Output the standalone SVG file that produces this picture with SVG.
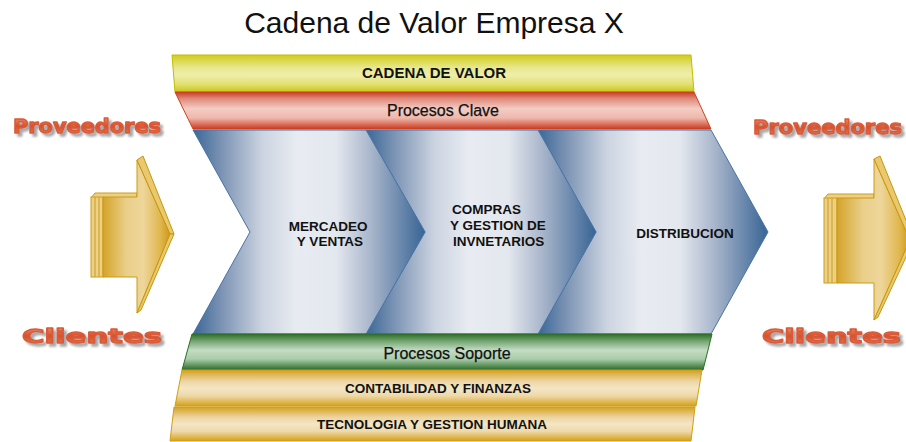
<svg xmlns="http://www.w3.org/2000/svg" width="906" height="442" viewBox="0 0 906 442">
<defs>
<linearGradient id="gChev" x1="0" y1="0" x2="1" y2="0">
<stop offset="0" stop-color="#3a6797"/>
<stop offset="0.12" stop-color="#7a92b3"/>
<stop offset="0.3" stop-color="#ccd4e1"/>
<stop offset="0.45" stop-color="#e8ecf2"/>
<stop offset="0.62" stop-color="#e3e7ee"/>
<stop offset="0.78" stop-color="#a3b1c8"/>
<stop offset="1" stop-color="#376494"/>
</linearGradient>
<linearGradient id="gYellow" x1="0" y1="0" x2="0" y2="1">
<stop offset="0" stop-color="#cfcd1c"/>
<stop offset="0.35" stop-color="#e9e891"/>
<stop offset="0.55" stop-color="#efeea8"/>
<stop offset="0.8" stop-color="#e0df70"/>
<stop offset="1" stop-color="#c9c812"/>
</linearGradient>
<linearGradient id="gRed" x1="0" y1="0" x2="0" y2="1">
<stop offset="0" stop-color="#c83a2a"/>
<stop offset="0.18" stop-color="#e08a7a"/>
<stop offset="0.45" stop-color="#f4ccc4"/>
<stop offset="0.7" stop-color="#efb8ac"/>
<stop offset="1" stop-color="#cc3a20"/>
</linearGradient>
<linearGradient id="gGreen" x1="0" y1="0" x2="0" y2="1">
<stop offset="0" stop-color="#2e6e2a"/>
<stop offset="0.22" stop-color="#7aaa78"/>
<stop offset="0.45" stop-color="#c4dcc4"/>
<stop offset="0.7" stop-color="#a8cca8"/>
<stop offset="1" stop-color="#2a6a26"/>
</linearGradient>
<linearGradient id="gGold" x1="0" y1="0" x2="0" y2="1">
<stop offset="0" stop-color="#d4a020"/>
<stop offset="0.3" stop-color="#ecd4a0"/>
<stop offset="0.5" stop-color="#f4e6c4"/>
<stop offset="0.72" stop-color="#eed8a8"/>
<stop offset="1" stop-color="#d4a018"/>
</linearGradient>
<linearGradient id="gArrow" x1="0" y1="0" x2="1" y2="0">
<stop offset="0" stop-color="#d4a42a"/>
<stop offset="0.35" stop-color="#eacf8a"/>
<stop offset="0.6" stop-color="#eed69a"/>
<stop offset="0.85" stop-color="#e0b850"/>
<stop offset="1" stop-color="#cc9a18"/>
</linearGradient>
<linearGradient id="gWord" x1="0" y1="0" x2="0" y2="1">
<stop offset="0" stop-color="#ec9878"/>
<stop offset="0.5" stop-color="#d8502c"/>
<stop offset="1" stop-color="#e4805e"/>
</linearGradient>
<filter id="shadow" x="-5%" y="-30%" width="115%" height="170%">
<feOffset in="SourceAlpha" dx="3" dy="3" result="o"/>
<feGaussianBlur in="o" stdDeviation="0.8" result="b"/>
<feFlood flood-color="#a8a8a8"/>
<feComposite in2="b" operator="in" result="s"/>
<feMerge><feMergeNode in="s"/><feMergeNode in="SourceGraphic"/></feMerge>
</filter>
</defs>
<style>
.chev{fill:url(#gChev);stroke:#4a74a4;stroke-width:1}
.yel{fill:url(#gYellow);stroke:#c4bc00;stroke-width:1}
.red{fill:url(#gRed);stroke:#d04020;stroke-width:1}
.grn{fill:url(#gGreen);stroke:#2a7020;stroke-width:1}
.gold{fill:url(#gGold);stroke:#d0a010;stroke-width:1}
.arr{fill:url(#gArrow);stroke:#cc9a10;stroke-width:1}
.bev{fill:#e9c870;stroke:#c8960a;stroke-width:1}
.side{fill:#ecd088;stroke:#cc9c18;stroke-width:1}
.t{font-family:"Liberation Sans",Arial,sans-serif;fill:#111;text-anchor:middle}
.b{font-weight:bold;font-size:13.5px}
.r{font-size:16px}
.wa{font-family:"DejaVu Sans","Liberation Sans",sans-serif;font-weight:bold;font-size:19px;fill:url(#gWord);stroke:#da5a36;stroke-width:1.3;stroke-linejoin:round;filter:url(#shadow)}
</style>

<text x="434" y="33" font-family="Liberation Sans, Arial, sans-serif" font-size="30" text-anchor="middle" fill="#111">Cadena de Valor Empresa X</text>

<g id="cadena-de-valor">
<polygon class="yel" points="172,55 691,55 694,92 175,92"/>
<text class="t b" x="434" y="78" style="font-size:15px">CADENA DE VALOR</text>
</g>
<g id="procesos-clave">
<polygon class="red" points="175,92 694,92 711,129 193,129"/>
<text class="t r" x="443" y="116" stroke="#111" stroke-width="0.25">Procesos Clave</text>
</g>

<g id="distribucion">
<path class="chev" d="M538,130 L711,130 L768,232 L711,334 L538,334 L596,232 Z"/>
<text class="t b" x="685" y="238">DISTRIBUCION</text>
</g>
<g id="compras">
<path class="chev" d="M366,130 L538,130 L596,232 L538,334 L366,334 L425,232 Z"/>
<text class="t b" style="text-anchor:start">
<tspan x="452" y="214">COMPRAS</tspan>
<tspan x="450" y="230">Y GESTION DE</tspan>
<tspan x="453" y="246">INVNETARIOS</tspan>
</text>
</g>
<g id="mercadeo">
<path class="chev" d="M193,130 L366,130 L425,232 L366,334 L193,334 L250,232 Z"/>
<text class="t b">
<tspan x="330" y="231">MERCADEO</tspan>
<tspan x="330" y="246">Y VENTAS</tspan>
</text>
</g>

<g id="procesos-soporte">
<polygon class="grn" points="192,334 712,334 703,370 182,370"/>
<text class="t r" x="447" y="359" stroke="#111" stroke-width="0.25">Procesos Soporte</text>
</g>
<g id="contabilidad">
<polygon class="gold" points="182,370 702,370 696,406 175,406"/>
<text class="t b" x="438" y="393">CONTABILIDAD Y FINANZAS</text>
</g>
<g id="tecnologia">
<polygon class="gold" points="174,407 695,407 691,441 170,441"/>
<text class="t b" x="432" y="429">TECNOLOGIA Y GESTION HUMANA</text>
</g>

<g id="connectors">
<g id="arrow-left">
<polygon class="side" points="95,193 137,193 137,198 91,198"/>
<rect class="side" x="91" y="197" width="12" height="80"/>
<line x1="95" y1="197" x2="95" y2="277" stroke="#cc9c18"/>
<line x1="99" y1="197" x2="99" y2="277" stroke="#cc9c18"/>
<polygon class="arr" points="103,197 137,197 137,160 170,234 137,313 137,277 103,277"/>
<polygon class="bev" points="137,160 143,156 174,234 170,234"/>
<polygon class="bev" points="137,313 141,310 174,234 170,234"/>
</g>
<g id="arrow-right">
<polygon class="side" points="828,194 874,194 874,199 824,199"/>
<rect class="side" x="824" y="198" width="13" height="85"/>
<line x1="828" y1="198" x2="828" y2="283" stroke="#cc9c18"/>
<line x1="832" y1="198" x2="832" y2="283" stroke="#cc9c18"/>
<polygon class="arr" points="837,198 874,198 874,159 910,240 874,320 874,283 837,283"/>
<polygon class="bev" points="874,159 880,156 914,240 910,240"/>
<polygon class="bev" points="874,320 878,317 914,240 910,240"/>
</g>
</g>

<g id="proveedores-left">
<text class="wa" x="13" y="133" textLength="148" lengthAdjust="spacingAndGlyphs">Proveedores</text>
</g>
<g id="clientes-left">
<text class="wa" x="22" y="343" textLength="140" lengthAdjust="spacingAndGlyphs">Clientes</text>
</g>
<g id="proveedores-right">
<text class="wa" x="753" y="134" textLength="149" lengthAdjust="spacingAndGlyphs">Proveedores</text>
</g>
<g id="clientes-right">
<text class="wa" x="762" y="343" textLength="139" lengthAdjust="spacingAndGlyphs">Clientes</text>
</g>
</svg>
